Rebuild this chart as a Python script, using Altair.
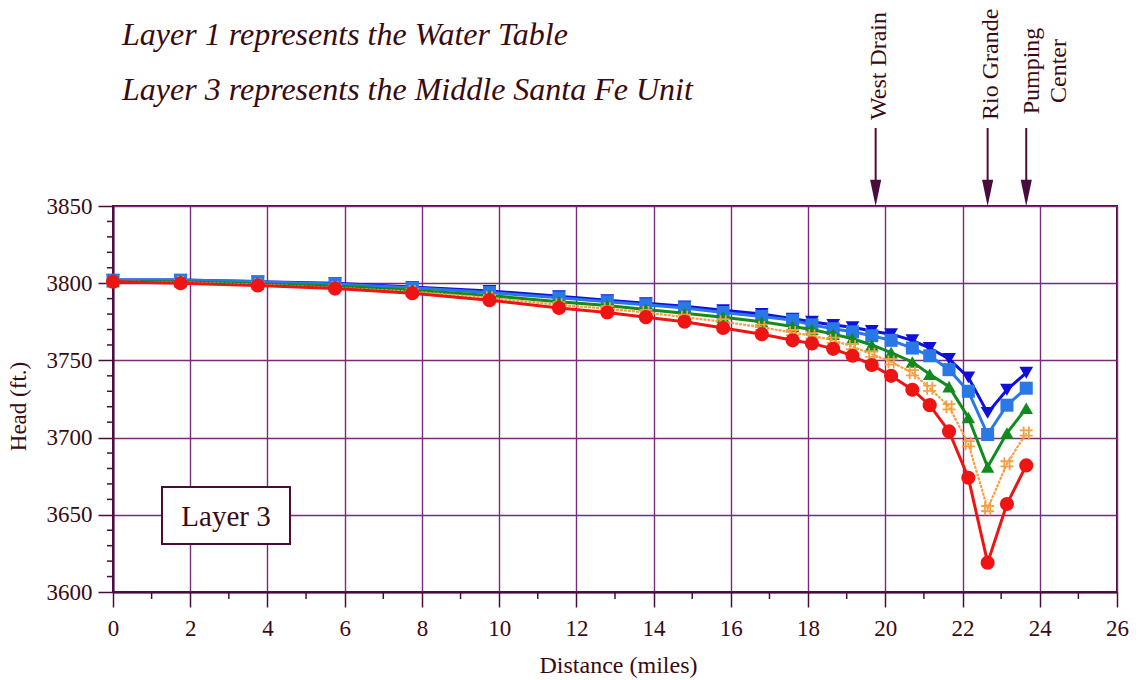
import altair as alt
import pandas as pd

# ---- data ----
distance = [0, 1.75, 3.75, 5.75, 7.75, 9.75, 11.55, 12.8, 13.8, 14.8, 15.8, 16.8,
            17.6, 18.1, 18.65, 19.15, 19.65, 20.15, 20.7, 21.15, 21.65, 22.15,
            22.65, 23.15, 23.65]

head_down_triangle = [3802, 3802, 3801, 3800, 3797.5, 3795, 3791.5, 3789, 3787, 3785,
                      3782.5, 3780, 3777, 3775, 3773, 3771.5, 3769, 3767, 3763, 3758,
                      3751, 3739, 3716, 3731, 3742]
head_square = [3802, 3802, 3801, 3799.5, 3797, 3794, 3790.5, 3788, 3786, 3784, 3781,
               3778.5, 3776, 3773, 3770.5, 3768.5, 3766, 3763, 3758, 3753, 3744, 3730,
               3702, 3721, 3732]
head_triangle = [3801, 3801, 3799.5, 3798, 3795.5, 3792, 3788, 3785.5, 3783, 3780.5,
                 3778, 3775, 3772, 3770, 3767, 3764, 3760, 3755, 3749, 3741, 3733,
                 3713, 3681, 3703, 3719]
head_cross = [3801, 3800.5, 3799, 3797, 3794.5, 3790.5, 3786, 3783.5, 3781, 3778,
              3775, 3771.5, 3768, 3766, 3763, 3759, 3754, 3749, 3742, 3732, 3720,
              3696, 3654, 3683, 3703]
head_circle = [3801, 3800, 3798.5, 3796.5, 3793.5, 3789, 3784, 3781, 3778, 3775, 3771,
               3767, 3763, 3761, 3757.5, 3753, 3747, 3740, 3731, 3721, 3704, 3674,
               3619, 3657, 3682]

x_ticks = list(range(0, 27, 2))
x_minor = list(range(1, 26, 2))
y_ticks = [3600, 3650, 3700, 3750, 3800, 3850]
y_minor = [v for v in range(3610, 3850, 10) if v % 50 != 0]

features = ["West Drain", "Rio Grande", "Pumping Center"]
feature_miles = [19.75, 22.65, 23.65]

notes = ["Layer 1 represents the Water Table", "Layer 3 represents the Middle Santa Fe Unit"]

INK = "#3a0a10"
GRID = "#7a2a78"
AXIS = "#4a0c3c"
FONT = "Liberation Serif"

xs = alt.Scale(domain=[0, 26], nice=False, zero=False)
ys = alt.Scale(domain=[3600, 3850], nice=False, zero=False)

x_axis = alt.Axis(values=x_ticks, format="d", title="Distance (miles)", tickSize=15, tickWidth=1.5,
                  tickColor=AXIS, labelPadding=10, labelFontSize=23, labelFont=FONT,
                  labelColor=INK, labelFlush=False, labelOverlap=False,
                  titleFont=FONT, titleFontSize=24, titleColor=INK,
                  titleFontWeight="normal", titleY=80, titleX=505, titleBaseline="alphabetic",
                  domainColor=AXIS, domainWidth=2, gridColor=GRID, gridWidth=1.4)
y_axis = alt.Axis(values=y_ticks, format="d", title="Head (ft.)", tickSize=15, tickWidth=1.5,
                  tickColor=AXIS, labelPadding=6, labelFontSize=23, labelFont=FONT,
                  labelColor=INK, labelFlush=False, labelOverlap=False,
                  titleFont=FONT, titleFontSize=23, titleColor=INK,
                  titleFontWeight="normal", titleX=-95, titleY=200, titleAlign="center",
                  titleBaseline="middle", domainColor=AXIS, domainWidth=2,
                  gridColor=GRID, gridWidth=1.4)

one = pd.DataFrame({"a": [0]})

layers = []

# minor ticks
layers.append(alt.Chart(pd.DataFrame({"m": x_minor})).mark_rule(color=AXIS, strokeWidth=1.5).encode(
    x=alt.X("m:Q", scale=xs, axis=x_axis), y=alt.value(386), y2=alt.value(393)))
layers.append(alt.Chart(pd.DataFrame({"h": y_minor})).mark_rule(color=AXIS, strokeWidth=1.5).encode(
    y=alt.Y("h:Q", scale=ys, axis=y_axis), x=alt.value(-6), x2=alt.value(-1)))

hash_path = "M-0.4,-1L-0.4,1M0.4,-1L0.4,1M-1,-0.4L1,-0.4M-1,0.4L1,0.4"

series = [
    (head_down_triangle, "#1010dc", "triangle-down", True, 190, None, 3),
    (head_square, "#2a78e6", "square", True, 170, None, 3),
    (head_triangle, "#138a1e", "triangle-up", True, 180, None, 3),
    (head_cross, "#f4a040", hash_path, False, 170, [3, 1], 2.2),
    (head_circle, "#ee1414", "circle", True, 200, None, 3),
]

for vals, col, shape, filled, size, dash, sw in series:
    df = pd.DataFrame({"d": distance, "h": vals})
    base = alt.Chart(df).encode(x=alt.X("d:Q", scale=xs, axis=x_axis),
                                y=alt.Y("h:Q", scale=ys, axis=y_axis))
    if dash:
        ln = base.mark_line(color=col, strokeWidth=sw, strokeDash=dash)
    else:
        ln = base.mark_line(color=col, strokeWidth=sw)
    if filled:
        pt = base.mark_point(shape=shape, filled=True, color=col, size=size, opacity=1)
    else:
        pt = base.mark_point(shape=shape, filled=False, color=col, size=size,
                             strokeWidth=1.8, opacity=1)
    layers += [ln, pt]

# Arrows for features
fdf = pd.DataFrame({"f": features, "d": feature_miles})
layers.append(alt.Chart(fdf).mark_rule(color=AXIS, strokeWidth=2).encode(
    x=alt.X("d:Q", scale=xs), y=alt.value(-78), y2=alt.value(-20)))
layers.append(alt.Chart(fdf).mark_point(
    shape="M-0.42,-1L0.42,-1L0,1Z", filled=True, color=AXIS, size=700, opacity=1).encode(
    x=alt.X("d:Q", scale=xs), y=alt.value(-13)))

label_df = pd.DataFrame({
    "txt": ["West Drain", "Rio Grande"],
    "d": [feature_miles[0], feature_miles[1]],
})
layers.append(alt.Chart(label_df).mark_text(
    angle=270, align="left", baseline="middle", font=FONT, fontSize=24, color=INK,
    dx=0, dy=3).encode(
    x=alt.X("d:Q", scale=xs), y=alt.value(-86), text="txt:N"))
pump_df = pd.DataFrame({"txt": ["Pumping", "Center"], "d": [feature_miles[2], feature_miles[2]]})
layers.append(alt.Chart(pump_df.iloc[[0]]).mark_text(
    angle=270, align="center", baseline="middle", font=FONT, fontSize=24, color=INK, dy=6).encode(
    x=alt.X("d:Q", scale=xs), y=alt.value(-135), text="txt:N"))
layers.append(alt.Chart(pump_df.iloc[[1]]).mark_text(
    angle=270, align="center", baseline="middle", font=FONT, fontSize=24, color=INK, dy=33).encode(
    x=alt.X("d:Q", scale=xs), y=alt.value(-135), text="txt:N"))

# Notes at top
for i, t in enumerate(notes):
    layers.append(alt.Chart(pd.DataFrame({"t": [t]})).mark_text(
        align="left", baseline="alphabetic", font=FONT, fontSize=32, fontStyle="italic",
        color=INK).encode(x=alt.value(9), y=alt.value([-161, -106][i]), text="t:N"))

# Layer 3 box
layers.append(alt.Chart(one).mark_rect(fill="white", stroke=AXIS, strokeWidth=2).encode(
    x=alt.value(49), x2=alt.value(177), y=alt.value(281), y2=alt.value(338)))
layers.append(alt.Chart(pd.DataFrame({"t": ["Layer 3"]})).mark_text(
    align="center", baseline="middle", font=FONT, fontSize=29, color=INK).encode(
    x=alt.value(113), y=alt.value(311), text="t:N"))

chart = alt.layer(*layers).properties(
    width=1004, height=386,
    autosize=alt.AutoSizeParams(type="none"),
    padding={"left": 113, "top": 206, "right": 24, "bottom": 88},
    background="white",
).configure_view(stroke=AXIS, strokeWidth=2).configure_axis(grid=True)

chart.save("out.html", embed_options={"renderer": "svg", "actions": False})
